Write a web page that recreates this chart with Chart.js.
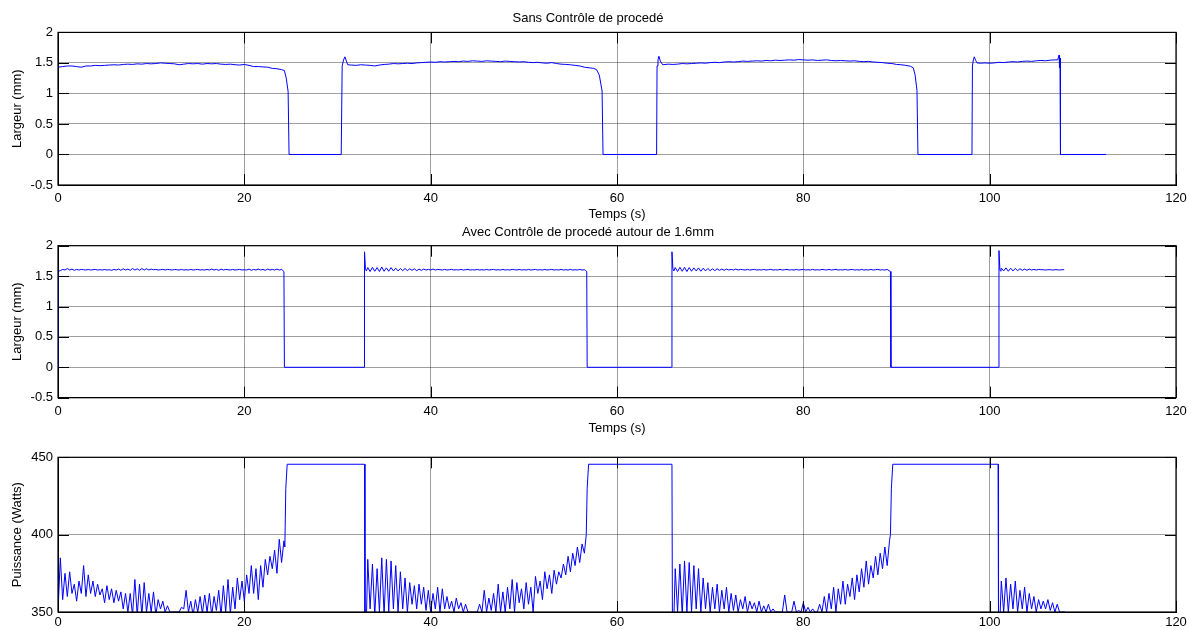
<!DOCTYPE html>
<html><head><meta charset="utf-8">
<script src="https://cdn.jsdelivr.net/npm/chart.js@4"></script>
<style>
html,body{margin:0;padding:0;background:#fff;}
#wrap{position:relative;width:1197px;height:630px;overflow:hidden;background:#fff;}
canvas{position:absolute;left:0;}
</style></head><body>
<div id="wrap">
<canvas id="c1" width="1197" height="230" style="top:0px"></canvas>
<canvas id="c2" width="1197" height="222" style="top:221px"></canvas>
<canvas id="c3" width="1197" height="190" style="top:440px"></canvas>
</div>
<script>
// ---------- DATA ----------
const xTicks = [0, 20, 40, 60, 80, 100, 120];
const widthTicks = [-0.5, 0, 0.5, 1, 1.5, 2];
const powerTicks = [350, 400, 450];

// Plot 1 : Sans Contrôle (width, mm) — plateaus sampled every 0.5 s
const sansPlateau1 = [1.43,1.44,1.45,1.45,1.44,1.43,1.45,1.45,1.46,1.455,
1.46,1.465,1.47,1.465,1.475,1.48,1.475,1.485,1.48,1.49,
1.485,1.49,1.50,1.495,1.49,1.485,1.47,1.48,1.49,1.485,
1.49,1.48,1.49,1.485,1.49,1.48,1.475,1.48,1.47,1.465,
1.475,1.46,1.44,1.44,1.435,1.43,1.41,1.405,1.39];
const sansEdges1 = [[24.3,1.375],[24.5,1.25],[24.7,1.03],[24.8,0],[30.4,0],[30.5,1.45],[30.65,1.55],[30.8,1.60],[30.95,1.53],[31.1,1.47]];
const sansPlateau2 = [1.465,1.46,1.47,1.465,1.46,1.45,1.465,1.475,1.48,1.49,
1.485,1.49,1.495,1.49,1.50,1.505,1.51,1.515,1.51,1.52,
1.515,1.52,1.525,1.52,1.53,1.525,1.535,1.53,1.525,1.535,
1.53,1.525,1.52,1.53,1.525,1.52,1.515,1.52,1.51,1.505,
1.51,1.50,1.495,1.505,1.49,1.48,1.475,1.47,1.46,1.45,
1.43,1.42,1.41];
const sansEdges2 = [[57.8,1.39],[58.1,1.30],[58.4,1.04],[58.5,0],[64.25,0],[64.3,1.45],[64.4,1.55],[64.5,1.61],[64.65,1.53],[64.9,1.47]];
const sansPlateau3 = [1.48,1.475,1.48,1.49,1.485,1.49,1.495,1.50,1.495,1.505,
1.51,1.505,1.515,1.52,1.515,1.52,1.53,1.525,1.53,1.535,
1.53,1.54,1.535,1.545,1.54,1.545,1.55,1.545,1.555,1.55,
1.545,1.55,1.54,1.545,1.55,1.54,1.535,1.54,1.535,1.53,
1.535,1.525,1.52,1.525,1.515,1.51,1.505,1.495,1.49,1.475,
1.47,1.46,1.445];
const sansEdges3 = [[91.8,1.42],[92.0,1.30],[92.2,1.05],[92.3,0],[98.1,0],[98.15,1.45],[98.25,1.55],[98.35,1.60],[98.5,1.54],[98.65,1.50]];
const sansPlateau4 = [1.495,1.50,1.495,1.50,1.51,1.505,1.515,1.52,1.515,1.525,1.53,1.525,1.535,1.54,1.535,1.545,1.55];
const sansEdges4 = [[107.3,1.55],[107.45,1.63],[107.5,1.42],[107.55,1.58],[107.6,0],[112.5,0]];

// Plot 2 : Avec Contrôle (width, mm) — plateaus sampled every 0.25 s
const avecStart = [[0,0],[0.05,1.58]];
const avecPlateau1 = [1.59,1.61,1.60,1.625,1.60,1.615,1.595,1.61,
1.60,1.61,1.605,1.60,1.61,1.60,1.605,1.61,
1.60,1.605,1.60,1.61,1.60,1.605,1.595,1.61,
1.60,1.615,1.595,1.62,1.60,1.615,1.595,1.625,
1.60,1.62,1.595,1.625,1.60,1.62,1.60,1.615,
1.605,1.61,1.60,1.605,1.61,1.60,1.61,1.605,
1.60,1.61,1.605,1.60,1.61,1.60,1.605,1.60,
1.61,1.60,1.605,1.61,1.60,1.605,1.60,1.61,
1.60,1.615,1.60,1.61,1.595,1.615,1.60,1.61,
1.605,1.60,1.61,1.60,1.605,1.61,1.60,1.605,
1.60,1.615,1.595,1.61,1.60,1.615,1.60,1.61,
1.595,1.615,1.60,1.61,1.60,1.615,1.60,1.61];
const avecEdges1 = [[24.15,1.59],[24.25,1.575],[24.3,0],[32.85,0],[32.9,1.90],[33.0,1.62],[33.1,1.585]];
const avecPlateau2 = [1.64,1.575,1.645,1.58,1.64,1.575,1.65,1.58,
1.635,1.58,1.64,1.585,1.63,1.585,1.625,1.59,
1.625,1.59,1.62,1.595,1.62,1.59,1.615,1.595,
1.615,1.60,1.61,1.60,1.615,1.60,1.61,1.605,
1.60,1.61,1.60,1.605,1.61,1.60,1.605,1.60,
1.61,1.60,1.605,1.61,1.60,1.605,1.60,1.61,
1.60,1.605,1.60,1.61,1.60,1.605,1.61,1.60,
1.605,1.60,1.61,1.60,1.605,1.60,1.61,1.605,
1.60,1.61,1.60,1.605,1.60,1.61,1.60,1.605,
1.61,1.60,1.605,1.60,1.61,1.60,1.605,1.61,
1.60,1.605,1.60,1.61,1.60,1.605,1.60,1.61,
1.60,1.605,1.60,1.61,1.60,1.605];
const avecEdges2 = [[56.65,1.59],[56.75,1.575],[56.8,0],[65.85,0],[65.9,1.90],[66.0,1.62],[66.1,1.585]];
const avecPlateau3 = [1.64,1.575,1.645,1.58,1.645,1.575,1.64,1.58,
1.635,1.585,1.635,1.58,1.63,1.585,1.625,1.59,
1.62,1.59,1.62,1.595,1.615,1.595,1.615,1.60,
1.61,1.60,1.615,1.60,1.61,1.605,1.60,1.61,
1.60,1.605,1.61,1.60,1.605,1.60,1.61,1.60,
1.605,1.61,1.60,1.605,1.60,1.61,1.60,1.605,
1.61,1.60,1.605,1.60,1.61,1.60,1.605,1.61,
1.60,1.605,1.60,1.61,1.60,1.605,1.60,1.61,
1.605,1.60,1.61,1.60,1.605,1.61,1.60,1.605,
1.60,1.61,1.60,1.605,1.61,1.60,1.605,1.60,
1.61,1.60,1.605,1.60,1.61,1.60,1.605,1.61,
1.60,1.605,1.60,1.61];
const avecEdges3 = [[89.2,1.59],[89.35,1.575],[89.4,0],[100.95,0],[101.0,1.92],[101.1,1.60],[101.2,1.58]];
const avecPlateau4 = [1.63,1.585,1.635,1.58,1.63,1.585,1.625,1.59,1.62,1.595,1.615,1.595,1.615,1.60,
1.61,1.60,1.61,1.605,1.605,1.60,1.605,1.605,1.60,1.605,1.605,1.60,1.605,1.605];

// Plot 3 : Puissance (Watts) — sampled every 0.25 s
const powSeg1 = [350,385,358,375,360,376,362,368,
357,370,362,380,360,374,362,370,
360,368,361,365,356,367,358,365,
356,364,357,363,352,362,350,362,
348,371,348,368,348,369,350,362,
350,363,348,358,352,357,350,354,
350,350,350,350,350,353,352,364,
350,357,348,358,350,360,349,361,
350,362,348,360,351,364,348,367,
350,371,349,366,352,372,358,370,
357,374,362,380,362,378,358,380,
366,384,374,386,378,390,375,397,
382,396];
const powEdges1 = [[24.35,392],[24.45,430],[24.6,445.5],[32.9,445.5],[32.95,340],[33.1,345]];
const powSeg2 = [384,352,381,348,378,350,385,348,
384,350,383,352,380,350,376,352,
372,350,369,355,367,352,368,355,
366,351,364,350,362,352,366,350,
365,352,360,352,357,350,359,352,
356,350,355,350,350,350,350,350,
355,350,364,350,359,351,362,350,
368,350,363,350,366,352,371,350,
369,356,365,352,369,355,366,350,
373,362,370,358,376,365,374,362,
377,368,376,372,381,374,386,376,
388,380,392,382,394,388];
const powEdges2 = [[56.7,400],[56.8,430],[56.95,445.5],[65.9,445.5],[65.95,340],[66.1,345]];
const powSeg3 = [378,350,381,348,383,350,382,350,
380,352,378,350,372,352,369,350,
366,352,368,350,364,352,366,350,
362,351,361,350,358,352,360,350,
357,352,356,350,357,350,354,350,
355,350,352,350,350,350,350,361,
350,350,350,357,350,351,350,356,
350,353,350,352,350,350,355,350,
360,350,362,352,366,350,365,355,
370,355,368,360,372,358,374,363,
378,366,383,368,380,372,386,374,
388,378,392,380,396];
const powEdges3 = [[89.35,400],[89.45,430],[89.6,445.5],[100.9,445.5],[100.95,340],[101.1,345]];
const powSeg4 = [370,350,372,350,368,352,370,350,364,352,366,350,362,352,360,350,358,352,357,352,358,351,356,350,355,350];
const powEnd = [[107.75,350],[108.1,350]];

// ---------- BUILD ----------
function sampled(t0, step, vals){ return vals.map((v,i)=>({x:+(t0+i*step).toFixed(3), y:v})); }
function pairs(arr){ return arr.map(p=>({x:p[0], y:p[1]})); }

const sansData = [].concat(
  sampled(0,0.5,sansPlateau1), pairs(sansEdges1),
  sampled(31.5,0.5,sansPlateau2), pairs(sansEdges2),
  sampled(65.5,0.5,sansPlateau3), pairs(sansEdges3),
  sampled(99,0.5,sansPlateau4), pairs(sansEdges4));
const avecData = [].concat(
  pairs(avecStart), sampled(0.25,0.25,avecPlateau1), pairs(avecEdges1),
  sampled(33.25,0.25,avecPlateau2), pairs(avecEdges2),
  sampled(66.25,0.25,avecPlateau3), pairs(avecEdges3),
  sampled(101.25,0.25,avecPlateau4));
const powData = [].concat(
  sampled(0,0.25,powSeg1), pairs(powEdges1),
  sampled(33.25,0.25,powSeg2), pairs(powEdges2),
  sampled(66.25,0.25,powSeg3), pairs(powEdges3),
  sampled(101.25,0.25,powSeg4), pairs(powEnd));

const FONT = 'Liberation Sans, Arial, Helvetica, sans-serif';
const GRID = 'rgba(0,0,0,0.38)';
const TICKLEN = 11;

const framePlugin = {
  id: 'frame',
  afterDatasetsDraw(chart){
    const {ctx, chartArea:a, scales} = chart;
    ctx.save();
    ctx.strokeStyle = '#000';
    ctx.lineWidth = 1;
    ctx.beginPath();
    scales.x.ticks.forEach(t=>{
      const px = Math.round(scales.x.getPixelForValue(t.value)) + 0.5;
      ctx.moveTo(px, a.bottom); ctx.lineTo(px, a.bottom - TICKLEN);
      ctx.moveTo(px, a.top); ctx.lineTo(px, a.top + TICKLEN);
    });
    scales.y.ticks.forEach(t=>{
      const py = Math.round(scales.y.getPixelForValue(t.value)) + 0.5;
      ctx.moveTo(a.left, py); ctx.lineTo(a.left + TICKLEN, py);
      ctx.moveTo(a.right, py); ctx.lineTo(a.right - TICKLEN, py);
    });
    ctx.stroke();
    ctx.lineWidth = 1.2;
    ctx.strokeRect(a.left, a.top, a.right - a.left, a.bottom - a.top);
    ctx.restore();
  }
};

function makeChart(id, data, yMin, yMax, yTicks, yTitle, opts){
  return new Chart(document.getElementById(id), {
    type: 'scatter',
    data: { datasets: [{ data, showLine: true, borderColor: '#0000ff', borderWidth: 1, pointRadius: 0, tension: 0 }] },
    options: {
      responsive: false, animation: false, devicePixelRatio: 1,
      layout: { padding: { left: 0, right: 21, top: opts.padTop || 0, bottom: 0 } },
      plugins: {
        legend: { display: false }, tooltip: { enabled: false },
        title: opts.title ? { display: true, text: opts.title, color: '#000',
          font: { family: FONT, size: 13, weight: 'normal' }, padding: opts.titlePad } : { display: false }
      },
      scales: {
        x: {
          type: 'linear', min: 0, max: 120,
          afterBuildTicks(s){ s.ticks = xTicks.map(v=>({value:v})); },
          ticks: { color: '#000', font: { family: FONT, size: 13 }, padding: opts.xTickPad, maxRotation: 0,
                   callback: v => String(v) },
          grid: { color: GRID, drawTicks: false },
          border: { display: true, color: '#000' },
          title: opts.xTitle ? { display: true, text: opts.xTitle, color: '#000', font: { family: FONT, size: 13 }, padding: { top: 0, bottom: opts.xTitlePadBottom } } : { display: false },
          afterFit(s){ s.height = opts.xHeight; }
        },
        y: {
          type: 'linear', min: yMin, max: yMax,
          afterBuildTicks(s){ s.ticks = yTicks.map(v=>({value:v})); },
          ticks: { color: '#000', font: { family: FONT, size: 13 }, padding: 5, callback: v => String(v) },
          grid: { color: GRID, drawTicks: false },
          border: { display: true, color: '#000' },
          title: { display: true, text: yTitle, color: '#000', font: { family: FONT, size: 13 }, padding: { top: 10, bottom: 0 } },
          afterFit(s){ s.width = 58; }
        }
      }
    },
    plugins: [framePlugin]
  });
}

makeChart('c1', sansData, -0.5, 2, widthTicks, 'Largeur (mm)', {
  title: 'Sans Contrôle de procedé', titlePad: { top: 10.4, bottom: 6.4 },
  xTitle: 'Temps (s)', xTitlePadBottom: 8.2, xHeight: 45, xTickPad: 6 });
makeChart('c2', avecData, -0.5, 2, widthTicks, 'Largeur (mm)', {
  title: 'Avec Contrôle de procedé autour de 1.6mm', titlePad: { top: 3.2, bottom: 5.9 },
  xTitle: 'Temps (s)', xTitlePadBottom: 7.2, xHeight: 45.3, xTickPad: 6 });
makeChart('c3', powData, 350, 450, powerTicks, 'Puissance (Watts)', {
  padTop: 17.3, xHeight: 18, xTickPad: 3 });
</script>
</body></html>
